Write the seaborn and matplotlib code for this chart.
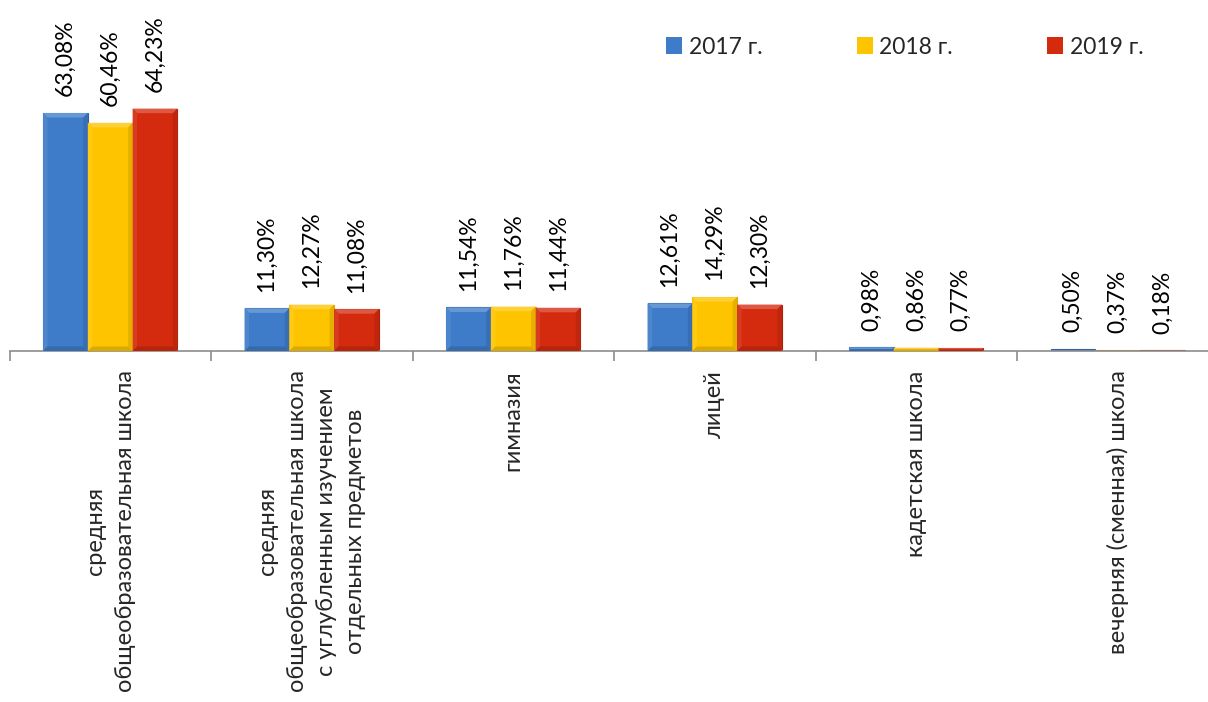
import matplotlib
matplotlib.use("Agg")
import matplotlib.pyplot as plt
import seaborn as sns
import pandas as pd
import numpy as np
from matplotlib.ticker import FixedLocator
from matplotlib.patches import Polygon
from matplotlib.colors import to_rgb
from matplotlib.transforms import IdentityTransform

categories = [
    "средняя\nобщеобразовательная школа",
    "средняя\nобщеобразовательная школа\nс углубленным изучением\nотдельных предметов",
    "гимназия",
    "лицей",
    "кадетская школа",
    "вечерняя (сменная) школа",
]
years = ["2017 г.", "2018 г.", "2019 г."]
values_2017 = [63.08, 11.30, 11.54, 12.61, 0.98, 0.50]
values_2018 = [60.46, 12.27, 11.76, 14.29, 0.86, 0.37]
values_2019 = [64.23, 11.08, 11.44, 12.30, 0.77, 0.18]
colors = ["#3E7BC8", "#FFC400", "#D42A0E"]
edge_colors = ["#2F62A6", "#D9A400", "#B02008"]

rows = []
for yr, vals in zip(years, [values_2017, values_2018, values_2019]):
    for c, v in zip(categories, vals):
        rows.append({"cat": c, "year": yr, "val": v})
df = pd.DataFrame(rows)

sns.set_theme(style="white")
plt.rcParams["font.family"] = ["Lato", "DejaVu Sans"]

W, H = 1208, 702
fig = plt.figure(figsize=(W / 100, H / 100), dpi=100)
ax = fig.add_axes([9.5 / W, 0.5, 1209 / W, 0.5])

sns.barplot(data=df, x="cat", y="val", hue="year", palette=colors,
            width=0.667, saturation=1, ax=ax, legend=True, linewidth=0)

ax.set_xlim(-0.5, 5.5)
ax.set_ylim(0, 351 / 3.773)


def mix(c, other, t):
    c = np.array(to_rgb(c))
    o = np.array(to_rgb(other))
    return tuple(c * (1 - t) + o * t)


for cont, ec, fc in zip(ax.containers, edge_colors, colors):
    for p in cont.patches:
        p.set_edgecolor(ec)
        p.set_linewidth(0.8)
        x0, y0 = p.get_x(), 0
        x1, y1 = p.get_x() + p.get_width(), p.get_height()
        (px0, py0), (px1, py1) = ax.transData.transform([(x0, y0), (x1, y1)])
        b = min(4.5, (py1 - py0) / 2.0, (px1 - px0) / 2.0)
        if b < 1.0:
            continue
        polys = [
            ([(px0, py1), (px1, py1), (px1 - b, py1 - b), (px0 + b, py1 - b)], mix(fc, "white", 0.22)),
            ([(px0, py0), (px0, py1), (px0 + b, py1 - b), (px0 + b, py0 + b)], mix(fc, "white", 0.08)),
            ([(px1, py0), (px1, py1), (px1 - b, py1 - b), (px1 - b, py0 + b)], mix(fc, "black", 0.10)),
            ([(px0, py0), (px1, py0), (px1 - b, py0 + b), (px0 + b, py0 + b)], mix(fc, "black", 0.14)),
        ]
        for pts, col in polys:
            fig.patches.append(Polygon(pts, closed=True, facecolor=col,
                                       edgecolor="none", transform=IdentityTransform(),
                                       zorder=3))

for cont in ax.containers:
    for p, v in zip(cont.patches, cont.datavalues):
        ax.annotate(f"{v:.2f}%".replace(".", ","),
                    (p.get_x() + p.get_width() / 2, p.get_height()),
                    xytext=(0, 12), textcoords="offset points",
                    rotation=90, ha="center", va="bottom", fontsize=16.5,
                    color="black")

ax.set_xlabel("")
ax.set_ylabel("")
ax.set_yticks([])
for s in ["top", "right", "left"]:
    ax.spines[s].set_visible(False)
ax.spines["bottom"].set_color("#8C8C8C")
ax.spines["bottom"].set_linewidth(1.2)

ax.set_xticks(range(len(categories)))
ax.set_xticklabels(categories, rotation=90, fontsize=17, ha="center",
                   va="top", multialignment="center", linespacing=1.5)
ax.tick_params(axis="x", which="major", length=0, pad=14)
ax.xaxis.set_minor_locator(FixedLocator([i - 0.5 for i in range(len(categories) + 1)]))
ax.tick_params(axis="x", which="minor", length=7, width=1.2, color="#8C8C8C",
               direction="out", bottom=True)

handles, labels = ax.get_legend_handles_labels()
ax.get_legend().remove()
fig.legend(handles, labels, loc="center left",
           bbox_to_anchor=(666 / W, 1 - 47 / H), ncol=3, frameon=False,
           fontsize=16.5, handlelength=0.7, handleheight=0.7,
           handletextpad=0.3, columnspacing=4.1, borderpad=0, borderaxespad=0)

fig.savefig("out.png", dpi=100)
